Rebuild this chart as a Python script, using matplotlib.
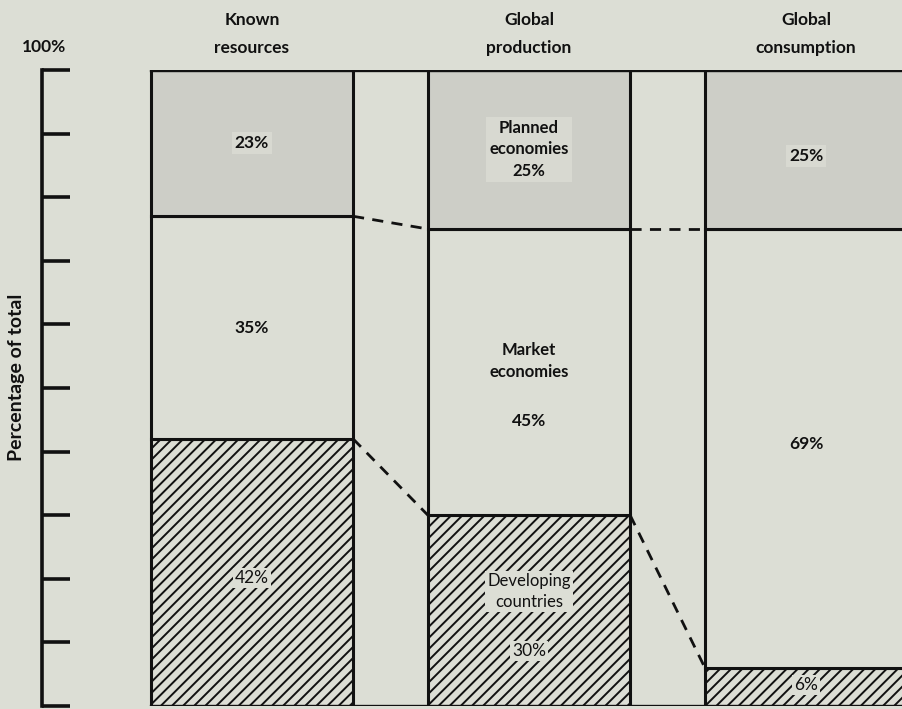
import matplotlib
matplotlib.use("Agg")
import matplotlib.pyplot as plt
import numpy as np

# ---- data ----
categories = ["Known\nresources", "Global\nproduction", "Global\nconsumption"]
developing = [42, 30, 6]
market = [35, 45, 69]
planned = [23, 25, 25]
yticks = [0, 10, 20, 30, 40, 50, 60, 70, 80, 90, 100]

BG = "#dcded5"
STIPPLE = "#cdcec7"
BOXBG = "#d8d9d1"
INK = "#111111"

plt.rcParams["hatch.linewidth"] = 1.4
plt.rcParams["font.family"] = ["Lato", "DejaVu Sans"]

fig = plt.figure(figsize=(9.03, 7.09), dpi=100, facecolor=BG)
ax = fig.add_axes([42 / 903, 3 / 709, 861 / 903, 636 / 709])
ax.set_facecolor(BG)

x = np.arange(len(categories))
width = 0.73
dev = np.array(developing)
mkt = np.array(market)
pln = np.array(planned)

ax.bar(x, dev, width, color=BG, edgecolor=INK, hatch="///", linewidth=2.2, zorder=2)
ax.bar(x, mkt, width, bottom=dev, color=BG, edgecolor=INK, linewidth=2.2, zorder=2)
ax.bar(x, pln, width, bottom=dev + mkt, color=STIPPLE, edgecolor=INK, linewidth=2.2, zorder=2)

xmin_frac = (x[0] - width / 2 + 0.758) / 3.108
ax.axhline(100, xmin=xmin_frac, xmax=1, color=INK, lw=2.4, zorder=3)
ax.axhline(0, xmin=xmin_frac, xmax=1, color=INK, lw=2.4, zorder=3)

# dashed connectors between bars
for i in range(len(categories) - 1):
    x0 = x[i] + width / 2
    x1 = x[i + 1] - width / 2
    ax.plot([x0, x1], [dev[i], dev[i + 1]], color=INK, lw=2, ls=(0, (4, 3)), zorder=3)
    ax.plot([x0, x1], [dev[i] + mkt[i], dev[i + 1] + mkt[i + 1]], color=INK, lw=2,
            ls=(0, (4, 3)), zorder=3)

ax.set_xlim(-0.758, 2.35)
ax.set_ylim(0, 100)

for s in ["top", "right", "bottom"]:
    ax.spines[s].set_visible(False)
ax.spines["left"].set_linewidth(2.6)
ax.spines["left"].set_color(INK)
ax.set_yticks(yticks)
ax.set_yticklabels([])
ax.tick_params(axis="y", direction="in", length=20, width=2.6, color=INK)
ax.set_xticks([])

# headers
for xi, c in zip(x, categories):
    fig.text((42 + (xi + 0.758) / 3.108 * 861) / 903, 1 - 34 / 709, c, ha="center",
             va="center", fontsize=12.5, fontweight="bold", color=INK, linespacing=1.85)
fig.text(44 / 903, 1 - 47 / 709, "100%", ha="center", va="center", fontsize=12.5,
         fontweight="bold", color=INK)
fig.text(17 / 903, 1 - 377 / 709, "Percentage of total", ha="center", va="center",
         rotation=90, fontsize=14, fontweight="bold", color=INK)

# in-bar labels
bb = dict(facecolor=BG, edgecolor="none", pad=1.5)
bbs = dict(facecolor=BOXBG, edgecolor="none", pad=2)
ax.text(x[0], dev[0] + mkt[0] + pln[0] / 2, f"{planned[0]}%", ha="center", va="center",
        fontsize=12.5, fontweight="bold", color=INK, zorder=4, bbox=bbs)
ax.text(x[0], dev[0] + mkt[0] / 2, f"{market[0]}%", ha="center", va="center",
        fontsize=12.5, fontweight="bold", color=INK, zorder=4)
ax.text(x[0], dev[0] * 0.48, f"{developing[0]}%", ha="center", va="center",
        fontsize=12.5, color=INK, zorder=4, bbox=bb)

ax.text(x[1], dev[1] + mkt[1] + pln[1] / 2, f"Planned\neconomies\n{planned[1]}%",
        ha="center", va="center", fontsize=12, fontweight="bold", color=INK, zorder=4,
        linespacing=1.4, bbox=bbs)
ax.text(x[1], dev[1] + mkt[1] * 0.54, "Market\neconomies", ha="center", va="center",
        fontsize=12, fontweight="bold", color=INK, zorder=4, linespacing=1.45)
ax.text(x[1], dev[1] + mkt[1] * 0.33, f"{market[1]}%", ha="center", va="center",
        fontsize=12.5, fontweight="bold", color=INK, zorder=4)
ax.text(x[1], dev[1] * 0.6, "Developing\ncountries", ha="center", va="center",
        fontsize=12, color=INK, zorder=4, linespacing=1.35, bbox=bb)
ax.text(x[1], dev[1] * 0.29, f"{developing[1]}%", ha="center", va="center",
        fontsize=12.5, color=INK, zorder=4, bbox=bb)

ax.text(x[2], dev[2] + mkt[2] + pln[2] * 0.46, f"{planned[2]}%", ha="center", va="center",
        fontsize=12.5, fontweight="bold", color=INK, zorder=4, bbox=bbs)
ax.text(x[2], dev[2] + mkt[2] * 0.51, f"{market[2]}%", ha="center", va="center",
        fontsize=12.5, fontweight="bold", color=INK, zorder=4)
ax.text(x[2], dev[2] * 0.55, f"{developing[2]}%", ha="center", va="center",
        fontsize=12.5, color=INK, zorder=4, bbox=bb)

fig.savefig("out.png", dpi=100, facecolor=BG)
